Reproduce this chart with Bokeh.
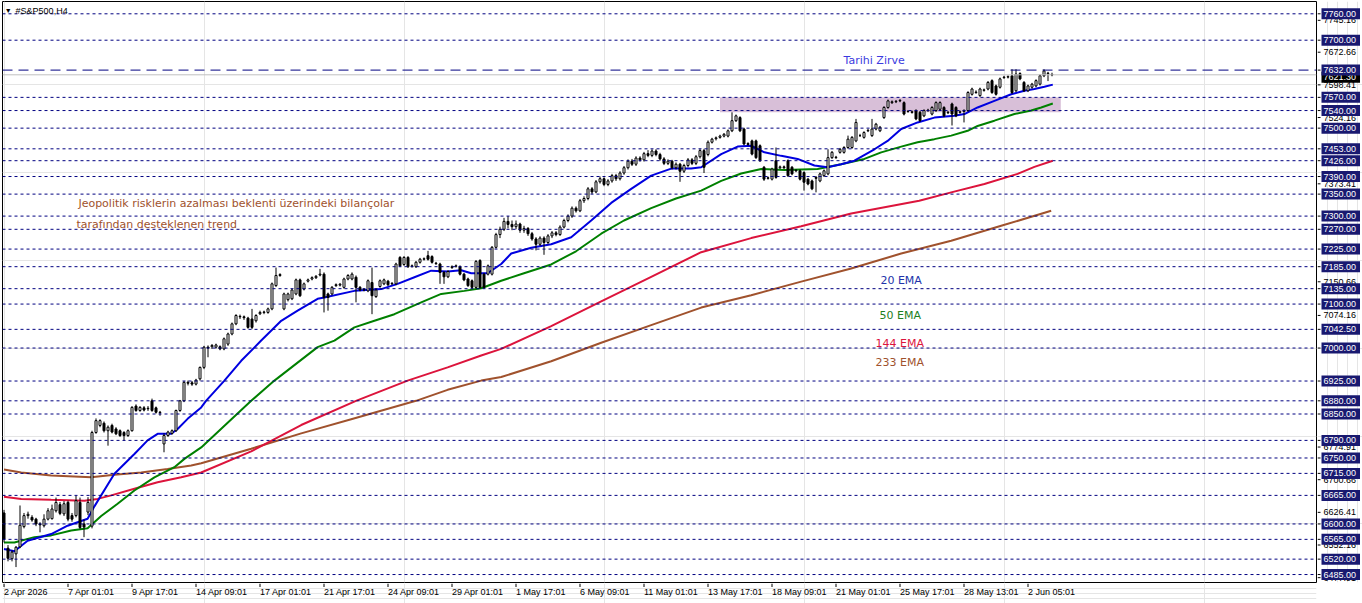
from bokeh.plotting import figure
from bokeh.layouts import row, column
from bokeh.models import Span, Label, Range1d, ColumnDataSource
from bokeh.core.properties import value
from bokeh.embed import file_html
from bokeh.resources import INLINE

# ---------------- data ----------------
opens = [
    6625, 6545, 6521, 6532, 6548, 6594, 6619, 6615, 6611, 6600,
    6596, 6611, 6612, 6630, 6644, 6623, 6649, 6619, 6619, 6649,
    6600, 6627, 6595, 6808, 6824, 6829, 6812, 6824, 6816, 6812,
    6808, 6801, 6812, 6868, 6858, 6864, 6862, 6880, 6864, 6854,
    6782, 6801, 6806, 6812, 6858,
    6880, 6922, 6921, 6918, 6930, 6956, 7002, 7003, 7002, 7003,
    6998, 7009, 7032, 7055, 7072, 7071, 7068, 7066, 7062, 7078,
    7081, 7081, 7089, 7142, 7165, 7089, 7110, 7112, 7123, 7155,
    7134, 7152, 7157, 7160, 7166, 7168, 7123, 7123, 7142, 7143,
    7138, 7157, 7157, 7161, 7138, 7133, 7130, 7149, 7117, 7140,
    7146, 7152, 7146, 7146, 7206, 7190, 7206, 7186, 7185, 7195,
    7202, 7210, 7208, 7193, 7191, 7172, 7162, 7183, 7186, 7185,
    7168, 7157, 7153, 7138, 7199, 7168, 7168, 7168, 7229,
    7258, 7270, 7288, 7281, 7276, 7282, 7268, 7272, 7260, 7248,
    7236, 7250, 7240, 7255, 7262, 7258, 7275, 7290, 7300, 7318,
    7312, 7335, 7340, 7362, 7355, 7378, 7385, 7372, 7380, 7392,
    7385, 7398, 7410, 7425, 7418, 7432, 7428, 7442, 7438, 7448,
    7440, 7430, 7420, 7425, 7410, 7418, 7402, 7415, 7428, 7420,
    7435,
    7449, 7440, 7468, 7476, 7479, 7482, 7482, 7494, 7517, 7524,
    7498, 7465, 7471, 7471, 7460, 7411, 7387, 7384, 7426, 7410,
    7412, 7426, 7411, 7404, 7403, 7399, 7384, 7380, 7388, 7380,
    7392, 7396, 7433, 7434, 7445, 7445, 7456, 7456, 7471, 7483,
    7479, 7494, 7483, 7498, 7494, 7524, 7547, 7558, 7560, 7562,
    7558, 7538, 7537, 7540, 7536, 7528, 7540, 7532, 7540, 7543,
    7547, 7536, 7555, 7547, 7536, 7538, 7540, 7577, 7582, 7574,
    7586, 7589, 7608, 7596, 7593, 7615, 7616, 7619, 7585, 7624,
    7604, 7585, 7593, 7596, 7600, 7619, 7625, 7622,
]
highs = [
    6632, 6552, 6540, 6550, 6642, 6625, 6628, 6620, 6614, 6604,
    6622, 6636, 6644, 6660, 6650, 6652, 6653, 6625, 6664, 6660,
    6610, 6661, 6812, 6840, 6838, 6833, 6824, 6828, 6820, 6815,
    6811, 6815, 6868, 6872, 6868, 6868, 6868, 6885, 6867, 6857,
    6806, 6812, 6815, 6860, 6882,
    6925, 6926, 6925, 6930, 6958, 7005, 7006, 7009, 7010, 7006,
    7024, 7035, 7058, 7077, 7076, 7074, 7071, 7089, 7077, 7085,
    7085, 7092, 7149, 7183, 7170, 7126, 7126, 7135, 7158, 7158,
    7149, 7158, 7163, 7166, 7180, 7172, 7126, 7141, 7147, 7148,
    7160, 7168, 7172, 7165, 7141, 7136, 7156, 7183, 7135, 7156,
    7158, 7155, 7150, 7194, 7209, 7209, 7209, 7190, 7198, 7205,
    7206, 7221, 7211, 7196, 7194, 7175, 7177, 7188, 7190, 7188,
    7171, 7160, 7156, 7200, 7202, 7171, 7190, 7232, 7262,
    7276, 7296, 7300, 7290, 7290, 7285, 7278, 7275, 7264, 7252,
    7254, 7254, 7259, 7266, 7266, 7279, 7294, 7304, 7322, 7322,
    7339, 7345, 7366, 7366, 7382, 7390, 7388, 7384, 7396, 7396,
    7402, 7414, 7429, 7430, 7436, 7436, 7446, 7450, 7452, 7452,
    7444, 7434, 7429, 7428, 7422, 7421, 7419, 7432, 7432, 7439,
    7453,
    7453, 7472, 7478, 7481, 7485, 7489, 7497, 7536, 7531, 7527,
    7501, 7468, 7474, 7474, 7463, 7414, 7390, 7410, 7456, 7415,
    7415, 7429, 7414, 7407, 7406, 7402, 7387, 7383, 7391, 7399,
    7406, 7452, 7448, 7437, 7455, 7459, 7483, 7482, 7521, 7487,
    7493, 7498, 7521, 7512, 7505, 7550, 7565, 7563, 7564, 7566,
    7561, 7541, 7540, 7543, 7539, 7543, 7544, 7550, 7561, 7561,
    7550, 7539, 7558, 7550, 7540, 7543, 7584, 7592, 7586, 7592,
    7590, 7607, 7611, 7599, 7615, 7619, 7620, 7634, 7634, 7627,
    7607, 7599, 7603, 7611, 7622, 7634, 7628, 7626,
]
lows = [
    6558, 6515, 6515, 6502, 6545, 6590, 6612, 6605, 6595, 6581,
    6592, 6608, 6610, 6626, 6620, 6618, 6606, 6605, 6615, 6588,
    6570, 6620, 6590, 6805, 6820, 6808, 6778, 6806, 6802, 6798,
    6790, 6798, 6810, 6855, 6855, 6856, 6857, 6855, 6851, 6846,
    6763, 6798, 6803, 6809, 6855,
    6877, 6915, 6914, 6915, 6926, 6952, 6979, 6998, 6999, 6995,
    6995, 7005, 7029, 7052, 7066, 7064, 7044, 7043, 7058, 7075,
    7077, 7078, 7086, 7139, 7162, 7086, 7106, 7109, 7120, 7116,
    7131, 7149, 7154, 7157, 7163, 7081, 7085, 7120, 7139, 7140,
    7135, 7154, 7154, 7104, 7129, 7129, 7127, 7077, 7114, 7137,
    7143, 7141, 7143, 7143, 7184, 7187, 7182, 7183, 7182, 7192,
    7199, 7199, 7192, 7189, 7146, 7146, 7159, 7180, 7183, 7165,
    7152, 7139, 7135, 7135, 7135, 7135, 7165, 7165, 7226,
    7250, 7266, 7272, 7268, 7270, 7262, 7262, 7255, 7244, 7222,
    7232, 7212, 7236, 7250, 7254, 7255, 7272, 7286, 7296, 7308,
    7309, 7330, 7336, 7350, 7352, 7374, 7368, 7368, 7376, 7380,
    7381, 7394, 7406, 7414, 7414, 7424, 7424, 7434, 7434, 7436,
    7426, 7416, 7416, 7406, 7406, 7378, 7398, 7411, 7416, 7416,
    7431,
    7398, 7436, 7465, 7472, 7476, 7479, 7479, 7491, 7514, 7491,
    7461, 7460, 7438, 7430, 7423, 7380, 7383, 7381, 7385, 7407,
    7407, 7389, 7393, 7400, 7381, 7358, 7370, 7359, 7354, 7377,
    7389, 7393, 7430, 7430, 7442, 7442, 7453, 7453, 7468, 7480,
    7476, 7491, 7480, 7495, 7491, 7521, 7544, 7555, 7557, 7559,
    7529, 7535, 7533, 7518, 7514, 7525, 7537, 7529, 7537, 7540,
    7525, 7532, 7506, 7525, 7533, 7513, 7537, 7574, 7578, 7571,
    7583, 7586, 7578, 7574, 7590, 7612, 7613, 7578, 7582, 7609,
    7582, 7582, 7590, 7593, 7597, 7616, 7607, 7618,
]
closes = [
    6565, 6522, 6536, 6547, 6597, 6619, 6622, 6609, 6600, 6598,
    6611, 6630, 6634, 6649, 6624, 6646, 6611, 6611, 6653, 6592,
    6593, 6649, 6808, 6835, 6835, 6812, 6820, 6809, 6805, 6801,
    6801, 6812, 6865, 6858, 6865, 6859, 6863, 6858, 6854, 6853,
    6801, 6809, 6812, 6858, 6880,
    6922, 6920, 6918, 6927, 6956, 7002, 7000, 7006, 7007, 6998,
    7021, 7032, 7055, 7074, 7071, 7069, 7047, 7047, 7074, 7081,
    7082, 7089, 7146, 7165, 7167, 7123, 7123, 7132, 7155, 7119,
    7146, 7155, 7160, 7163, 7168, 7115, 7115, 7138, 7144, 7145,
    7157, 7165, 7168, 7138, 7132, 7132, 7153, 7119, 7132, 7153,
    7155, 7144, 7147, 7191, 7187, 7206, 7185, 7187, 7195, 7202,
    7203, 7202, 7195, 7192, 7172, 7162, 7174, 7185, 7187, 7168,
    7155, 7142, 7138, 7197, 7138, 7138, 7187, 7229, 7258,
    7270, 7288, 7281, 7276, 7282, 7268, 7272, 7260, 7248, 7236,
    7250, 7240, 7255, 7262, 7258, 7275, 7290, 7300, 7318, 7312,
    7335, 7340, 7362, 7355, 7378, 7385, 7372, 7380, 7392, 7385,
    7398, 7410, 7425, 7418, 7432, 7428, 7442, 7438, 7448, 7440,
    7430, 7420, 7425, 7410, 7418, 7402, 7415, 7428, 7420, 7435,
    7449,
    7411, 7468, 7475, 7478, 7482, 7486, 7494, 7517, 7528, 7494,
    7464, 7463, 7441, 7433, 7426, 7384, 7386, 7407, 7388, 7412,
    7410, 7392, 7396, 7403, 7384, 7377, 7373, 7362, 7386, 7396,
    7403, 7433, 7445, 7433, 7452, 7456, 7475, 7479, 7513, 7483,
    7490, 7495, 7498, 7509, 7502, 7547, 7562, 7560, 7561, 7563,
    7532, 7538, 7536, 7521, 7517, 7540, 7541, 7547, 7558, 7558,
    7528, 7535, 7532, 7528, 7537, 7540, 7581, 7589, 7581, 7589,
    7587, 7604, 7581, 7577, 7612, 7616, 7617, 7581, 7623, 7612,
    7585, 7596, 7600, 7608, 7619, 7630, 7624, 7621,
]

ema20_bar = [0, 2.6, 5.9, 11.8, 15.9, 20.9, 22.6, 27.6, 32.6, 35.9,
             38.4, 41.8, 43.4, 45.9, 49.3, 50.5, 55.1, 59.3, 64.3, 69.3,
             73.4, 78.4, 80.1, 87.6, 94.3, 98.4, 102.6, 106.8, 110.9, 114.3,
             116.8, 120.9, 124.3, 126.8, 131.8, 136.8, 141.8, 146.8, 151.8, 156.8,
             161.8, 166.8, 171.8, 174.3, 179.3, 183.4, 186.8, 190.1, 194.3, 198.4,
             202.6, 205.9, 209.3, 212.6, 217.6, 220.9, 224.3, 228.4, 232.6, 237.6,
             240.1, 243.4, 247.6, 251.8, 255.1, 257.6, 260.1, 262.2]
ema20_val = [6543, 6538, 6562, 6577, 6596, 6612, 6640, 6714, 6759, 6790,
             6805, 6805, 6816, 6839, 6865, 6880, 6926, 6971, 7017, 7062,
             7085, 7112, 7115, 7130, 7134, 7146, 7161, 7176, 7174, 7177,
             7170, 7170, 7191, 7215, 7228, 7236, 7252, 7290, 7330, 7362,
             7392, 7408, 7408, 7411, 7441, 7458, 7460, 7445, 7437, 7430,
             7415, 7411, 7418, 7426, 7452, 7471, 7498, 7513, 7524, 7528,
             7532, 7547, 7562, 7577, 7585, 7589, 7594, 7599]

ema50_bar = [0, 2.6, 7.6, 11.8, 16.8, 20.9, 24.3, 28.4, 32.6, 37.6,
             42.6, 45.1, 49.3, 61.8, 67.6, 78.4, 82.6, 87.6, 92.6, 97.6,
             104.3, 109.3, 115.1, 119.3, 124.3, 130, 136.8, 143, 149.3, 155,
             161.8, 168, 174.3, 179.3, 184.3, 189.3, 195.1, 203.4, 209.3, 215.1,
             219.3, 224.3, 228.4, 232.6, 236.8, 240.9, 243.4, 247.6, 252.6, 256.8,
             259.3, 262.2]
ema50_val = [6558, 6558, 6570, 6574, 6585, 6590, 6618, 6646, 6676, 6706,
             6729, 6748, 6774, 6880, 6926, 7002, 7017, 7047, 7062, 7077,
             7104, 7123, 7130, 7136, 7153, 7170, 7190, 7220, 7260, 7290,
             7318, 7340, 7358, 7380, 7397, 7407, 7405, 7407, 7418, 7430,
             7445, 7458, 7468, 7475, 7483, 7494, 7505, 7517, 7532, 7540,
             7547, 7556]

ema144_bar = [0, 4.3, 11.8, 20.1, 23.4, 26.8, 32.6, 38.4, 44.3, 49.3,
              61.8, 74.3, 88, 100.9, 110.9, 119.3, 124.3, 136.8, 149.3, 161.8,
              174.3, 186.8, 199.3, 211.8, 228.8, 236.8, 245.1, 253.4, 257.6, 262.2]
ema144_val = [6662, 6657, 6655, 6653, 6657, 6665, 6680, 6695, 6706, 6717,
              6765, 6825, 6880, 6926, 6956, 6983, 6998, 7050, 7106, 7162,
              7218, 7250, 7277, 7306, 7335, 7354, 7373, 7396, 7412, 7426]

ema233_bar = [0, 4.3, 11.8, 21.8, 27.6, 34.3, 40.9, 46.8, 49.3, 61.8,
              74.3, 86.8, 103, 110.9, 119.3, 124.3, 136.8, 149.3, 161.8, 174.3,
              186.8, 199.3, 211.8, 224.3, 236.8, 249.3, 261.8]
ema233_val = [6724, 6717, 6710, 6706, 6712, 6717, 6725, 6733, 6738, 6771,
              6806, 6838, 6880, 6905, 6926, 6934, 6970, 7012, 7052, 7092,
              7120, 7151, 7181, 7215, 7244, 7278, 7312]

time_tick_bars = [0, 16, 32, 48, 64, 80, 96, 112, 128, 144, 160, 176, 192, 208, 224, 240, 256]
time_tick_labels = ["2 Apr 2026", "7 Apr 01:01", "9 Apr 17:01", "14 Apr 09:01", "17 Apr 01:01",
                    "21 Apr 17:01", "24 Apr 09:01", "29 Apr 01:01", "1 May 17:01", "6 May 09:01",
                    "11 May 01:01", "13 May 17:01", "18 May 09:01", "21 May 01:01", "25 May 17:01",
                    "28 May 13:01", "2 Jun 05:01"]

level_prices = [7760, 7700, 7570, 7540, 7500, 7453, 7426, 7390, 7350, 7300, 7270, 7225,
                7185, 7135, 7100, 7042.5, 7000, 6925, 6880, 6850, 6790, 6750, 6715, 6665,
                6600, 6565, 6520, 6485]
ath_price = 7632
bid_price = 7621.30
bid_label_price = 7616.00
scale_prices = [7745.16, 7672.66, 7598.41, 7524.16, 7373.41, 7150.66, 7074.16,
                6774.91, 6700.66, 6626.41, 6552.16, 6477.91]

zone_bar_start, zone_bar_end = 179, 264.2
zone_low, zone_high = 7536, 7570

# ---------------- layout constants ----------------
FONT = "Liberation Sans"
ANN = "DejaVu Sans"
X0 = -0.375
PX_PER_BAR = 4
PX_PER_PT = 0.4398
y_rng = Range1d(6466.9, 7787.97)
x_rng = Range1d(X0, X0 + 1314 / PX_PER_BAR)

# ---------------- main chart ----------------
p = figure(width=1317, height=583, x_range=x_rng, y_range=y_rng,
           output_backend="svg", toolbar_location=None,
           x_axis_location=None, y_axis_location=None,
           min_border_left=2, min_border_right=1, min_border_top=1, min_border_bottom=1)
p.background_fill_color = "white"
p.border_fill_color = "white"
p.outline_line_color = "black"
p.outline_line_width = 1

p.quad(left=[zone_bar_start], right=[zone_bar_end], bottom=[zone_low], top=[zone_high],
       fill_color="#d8bfd8", line_color=None)

for lv in level_prices:
    p.add_layout(Span(location=lv, dimension="width", line_color="#000080",
                      line_dash="3 3", line_width=1))
p.add_layout(Span(location=bid_price, dimension="width", line_color="#c0c0c0", line_width=1))
p.add_layout(Span(location=ath_price, dimension="width", line_color="#000080",
                  line_dash="10 6", line_width=1))

p.line(ema233_bar, ema233_val, line_color="#a0522d", line_width=2)
p.line(ema144_bar, ema144_val, line_color="#dc143c", line_width=2)
p.line(ema50_bar, ema50_val, line_color="#008000", line_width=2)
p.line(ema20_bar, ema20_val, line_color="#0000e0", line_width=2)

idx = list(range(len(closes)))
src = ColumnDataSource(dict(
    x=idx, h=highs, l=lows,
    top=[max(a, b) for a, b in zip(opens, closes)],
    bot=[min(a, b) for a, b in zip(opens, closes)],
    fill=["white" if cc >= oo else "black" for oo, cc in zip(opens, closes)],
))
p.segment(x0="x", y0="l", x1="x", y1="h", source=src, line_color="black", line_width=1)
p.vbar(x="x", width=0.5, top="top", bottom="bot", source=src,
       fill_color="fill", line_color="black", line_width=1)

p.add_layout(Label(x=0.2, y=7767.5, text="\u25bc", text_font=FONT, text_font_size="7px",
                   text_color="black", text_baseline="middle"))
p.add_layout(Label(x=2.9, y=7767.5, text="#S&P500,H4", text_font=FONT, text_font_size="9px",
                   text_color="black", text_baseline="middle"))
p.add_layout(Label(x=209.9, y=7653.8, text="Tarihi Zirve", text_font=ANN, text_font_size="11px",
                   text_color="#3b3be0", text_baseline="middle"))
p.add_layout(Label(x=18.6, y=7328.7, text="Jeopolitik risklerin azalması beklenti üzerindeki bilançolar",
                   text_font=ANN, text_font_size="11px", text_color="#a0522d", text_baseline="middle"))
p.add_layout(Label(x=18.1, y=7280.9, text="tarafından desteklenen trend",
                   text_font=ANN, text_font_size="11px", text_color="#a0522d", text_baseline="middle"))
p.add_layout(Label(x=219.1, y=7153.6, text="20 EMA", text_font=ANN, text_font_size="11px",
                   text_color="#2233aa", text_baseline="middle"))
p.add_layout(Label(x=218.9, y=7073.9, text="50 EMA", text_font=ANN, text_font_size="11px",
                   text_color="#1e801e", text_baseline="middle"))
p.add_layout(Label(x=217.9, y=7010.3, text="144 EMA", text_font=ANN, text_font_size="11px",
                   text_color="#dc143c", text_baseline="middle"))
p.add_layout(Label(x=217.9, y=6967.1, text="233 EMA", text_font=ANN, text_font_size="11px",
                   text_color="#a0522d", text_baseline="middle"))

# ---------------- price scale strip (right) ----------------
pr = figure(width=45, height=583, x_range=Range1d(0, 45), y_range=y_rng,
            output_backend="svg", toolbar_location=None,
            x_axis_location=None, y_axis_location=None,
            min_border_left=0, min_border_right=0, min_border_top=1, min_border_bottom=1)
pr.outline_line_color = None
pr.background_fill_color = "white"
pr.border_fill_color = "white"

half_box = 5.5 / PX_PER_PT
all_ticks = scale_prices + level_prices + [ath_price]
pr.segment(x0=[0] * len(all_ticks), x1=[3] * len(all_ticks), y0=all_ticks, y1=all_ticks,
           line_color="black", line_width=1)
pr.text(x=[6] * len(scale_prices), y=scale_prices, text=[f"{v:.2f}" for v in scale_prices],
        text_font=value(FONT), text_font_size="9px", text_color="black", text_baseline="middle")
pr.quad(left=[4], right=[42.5], bottom=[bid_label_price - half_box], top=[bid_label_price + half_box],
        fill_color="black", line_color=None)
pr.text(x=[6], y=[bid_label_price], text=[f"{bid_price:.2f}"],
        text_font=value(FONT), text_font_size="9px", text_color="white", text_baseline="middle")
boxed = level_prices + [ath_price]
pr.quad(left=[4] * len(boxed), right=[42.5] * len(boxed),
        bottom=[v - half_box for v in boxed], top=[v + half_box for v in boxed],
        fill_color="#191970", line_color=None)
pr.text(x=[6] * len(boxed), y=boxed, text=[f"{v:.2f}" for v in boxed],
        text_font=value(FONT), text_font_size="9px", text_color="white", text_baseline="middle")

# ---------------- time scale strip (bottom) ----------------
pb = figure(width=1362, height=20, x_range=x_rng, y_range=Range1d(0, 20),
            output_backend="svg", toolbar_location=None,
            x_axis_location=None, y_axis_location=None,
            min_border_left=2, min_border_right=46, min_border_top=0, min_border_bottom=0)
pb.outline_line_color = None
pb.background_fill_color = "white"
pb.border_fill_color = "white"
pb.segment(x0=time_tick_bars, x1=time_tick_bars, y0=[20] * len(time_tick_bars),
           y1=[16.5] * len(time_tick_bars), line_color="black", line_width=1)
pb.text(x=time_tick_bars, y=[12] * len(time_tick_bars), text=time_tick_labels,
        text_font=value(FONT), text_font_size="9px", text_color="black",
        text_baseline="middle", text_align="left")

layout = column(row(p, pr), pb)
open("out.html", "w").write(file_html(layout, INLINE))
